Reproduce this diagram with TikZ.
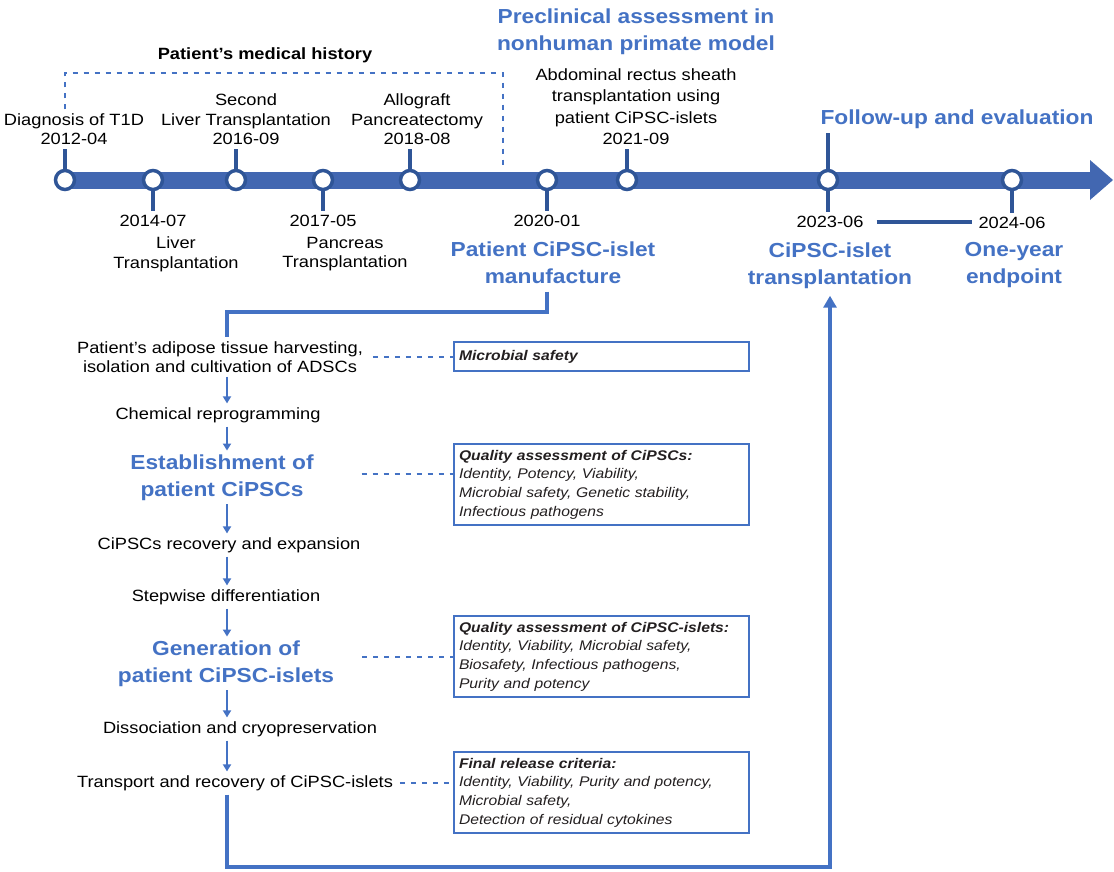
\documentclass[tikz,border=0pt]{standalone}
\usepackage{fontspec}
\setmainfont[FakeStretch=1.12]{Liberation Sans}
\usetikzlibrary{positioning, arrows.meta}
\pgfdeclarelayer{background}
\pgfsetlayers{background,main}
\definecolor{headblue}{RGB}{68,114,196}
\definecolor{barblue}{RGB}{66,103,177}
\definecolor{tickblue}{RGB}{47,85,151}
\definecolor{inkgray}{RGB}{35,31,32}

\begin{document}
\begin{tikzpicture}[
  x=1pt, y=-1pt,
  font=\fontsize{16.3}{19.5}\selectfont,
  event/.style={align=center, inner sep=0pt, outer sep=4pt},
  heading/.style={align=center, inner sep=0pt, outer sep=4pt, text=headblue, font=\fontsize{20.3}{27}\selectfont\bfseries},
  stage/.style={circle, draw=tickblue, fill=white, line width=3.5pt, minimum size=19pt, inner sep=0pt},
  tick/.style={tickblue, line width=4pt},
  qcbox/.style={draw=headblue, line width=2pt, anchor=north west, text width=285pt, align=left, inner xsep=5pt, inner ysep=6pt, text=inkgray, font=\fontsize{14}{18.7}\selectfont\itshape},
  dotlink/.style={headblue, line width=2pt, dash pattern=on 5pt off 6pt},
  flowarrow/.style={-{Triangle[length=7pt, width=8pt]}, headblue, line width=2.2pt},
  route/.style={headblue, line width=4pt},
]
\useasboundingbox (0,0) rectangle (1114,871);

% Timeline stages
\node[stage] (t1) at (65,180) {};
\node[stage] (t2) at (153,180) {};
\node[stage] (t3) at (236,180) {};
\node[stage] (t4) at (323,180) {};
\node[stage] (t5) at (410,180) {};
\node[stage] (t6) at (547,180) {};
\node[stage] (t7) at (627,180) {};
\node[stage] (t8) at (828,180) {};
\node[stage] (t9) at (1012,180) {};

% Timeline bar (behind the stages)
\coordinate (tip) at (1113,180);
\begin{pgfonlayer}{background}
  \draw[barblue, line width=17pt] (t1.center) -- ([xshift=-22pt]tip);
  \fill[barblue] (tip) -- ++(-23,-20) -- ++(0,40) -- cycle;
\end{pgfonlayer}

% Events above the bar
\node[event, above=20pt of t1, xshift=9pt] (d1) {Diagnosis of T1D\\2012-04};
\node[event, above=20pt of t3, xshift=10pt] (d3) {Second\\Liver Transplantation\\2016-09};
\node[event, above=20pt of t5, xshift=7pt] (d5) {Allograft\\Pancreatectomy\\2018-08};
\node[event, above=20pt of t7, xshift=9pt, font=\fontsize{16.3}{21.5}\selectfont] (d7) {Abdominal rectus sheath\\transplantation using\\patient CiPSC-islets\\2021-09};
\node[heading] (precl) at (636,31.5) {Preclinical assessment in\\nonhuman primate model};
\node[heading, above=36pt of t8, xshift=129pt] (follow) {Follow-up and evaluation};

% Events below the bar
\node[event, below=20pt of t2] (d2) {2014-07};
\node[event, below=2pt of d2, xshift=23pt] (e2) {Liver\\Transplantation};
\node[event, below=20pt of t4] (d4) {2017-05};
\node[event, below=2pt of d4, xshift=22pt] (e4) {Pancreas\\Transplantation};
\node[event, below=20pt of t6] (d6) {2020-01};
\node[heading, below=7pt of d6, xshift=6pt] (manu) {Patient CiPSC-islet\\manufacture};
\node[event, below=21pt of t8, xshift=2pt] (d8) {2023-06};
\node[heading, below=7pt of d8] (txlant) {CiPSC-islet\\transplantation};
\node[event, below=22pt of t9] (d9) {2024-06};
\node[heading, below=6pt of d9, xshift=2pt] (endpt) {One-year\\endpoint};

% Ticks
\draw[tick] (t1.north) -- (t1.north |- d1.south);
\draw[tick] (t3.north) -- (t3.north |- d3.south);
\draw[tick] (t5.north) -- (t5.north |- d5.south);
\draw[tick] (t7.north) -- (t7.north |- d7.south);
\draw[tick] (t8.north) -- (t8.north |- follow.south);
\draw[tick] (t2.south) -- (t2.south |- d2.north);
\draw[tick] (t4.south) -- (t4.south |- d4.north);
\draw[tick] (t6.south) -- (t6.south |- d6.north);
\draw[tick] (t8.south) -- (t8.south |- d8.north);
\draw[tick] (t9.south) -- (t9.south |- d9.north);
\draw[tick, shorten <=9pt, shorten >=3pt] (d8.east) -- (d8.east -| d9.west);

% Medical history bracket
\coordinate (hl) at (65,73);
\coordinate (hr) at (503,73);
\node[font=\fontsize{16.3}{18}\selectfont\bfseries] (hist) at (265,55) {Patient’s medical history};
\draw[dotlink, line width=1.6pt] (d1.north -| hl) -- (hl) -- (hr) -- (hr |- t1.north);

% Manufacture steps
\coordinate (spine) at (227,0);
\node[event] (harvest) at (220,357) {Patient’s adipose tissue harvesting,\\isolation and cultivation of ADSCs};
\node[event] (chem) at (218,415) {Chemical reprogramming};
\node[heading] (estab) at (222,477.5) {Establishment of\\patient CiPSCs};
\node[event] (recov) at (229,545) {CiPSCs recovery and expansion};
\node[event] (stepw) at (226,597) {Stepwise differentiation};
\node[heading] (gener) at (226,663.5) {Generation of\\patient CiPSC-islets};
\node[event] (dissoc) at (240,729) {Dissociation and cryopreservation};
\node[event] (transp) at (235,783) {Transport and recovery of CiPSC-islets};

\draw[flowarrow] (harvest.south -| spine) -- (chem.north -| spine);
\draw[flowarrow] (chem.south -| spine) -- (estab.north -| spine);
\draw[flowarrow] (estab.south -| spine) -- (recov.north -| spine);
\draw[flowarrow] (recov.south -| spine) -- (stepw.north -| spine);
\draw[flowarrow] (stepw.south -| spine) -- (gener.north -| spine);
\draw[flowarrow] (gener.south -| spine) -- (dissoc.north -| spine);
\draw[flowarrow] (dissoc.south -| spine) -- (transp.north -| spine);

% Quality checks
\node[qcbox, minimum height=29pt] (mb) at (453,341) {\textbf{Microbial safety}};
\node[qcbox] (qa) at (453,443) {\textbf{Quality assessment of CiPSCs:}\\Identity, Potency, Viability,\\Microbial safety, Genetic stability,\\Infectious pathogens};
\node[qcbox] (qi) at (453,615) {\textbf{Quality assessment of CiPSC-islets:}\\Identity, Viability, Microbial safety,\\Biosafety, Infectious pathogens,\\Purity and potency};
\node[qcbox] (rel) at (453,751) {\textbf{Final release criteria:}\\Identity, Viability, Purity and potency,\\Microbial safety,\\Detection of residual cytokines};

\draw[dotlink, shorten <=6pt] (harvest.east |- mb.west) -- (mb.west);
\draw[dotlink, shorten <=44pt] ([yshift=3.5pt]estab.east) -- ([yshift=3.5pt]estab.east -| qa.west);
\draw[dotlink, shorten <=24pt] (gener.east |- qi.west) -- (qi.west);
\draw[dotlink, shorten <=3pt] (transp.east) -- (transp.east -| rel.west);

% Routes from manufacture to transplantation
\coordinate (turn) at (227,312);
\coordinate (floor) at (227,867);
\draw[route, shorten <=4pt] (manu.south -| t6) |- (turn) -- (harvest.north -| turn);
\draw[route, shorten >=3pt, -{Triangle[length=12pt, width=13pt]}] (transp.south -| spine) -- (floor) -| (txlant.south);

\end{tikzpicture}
\end{document}
